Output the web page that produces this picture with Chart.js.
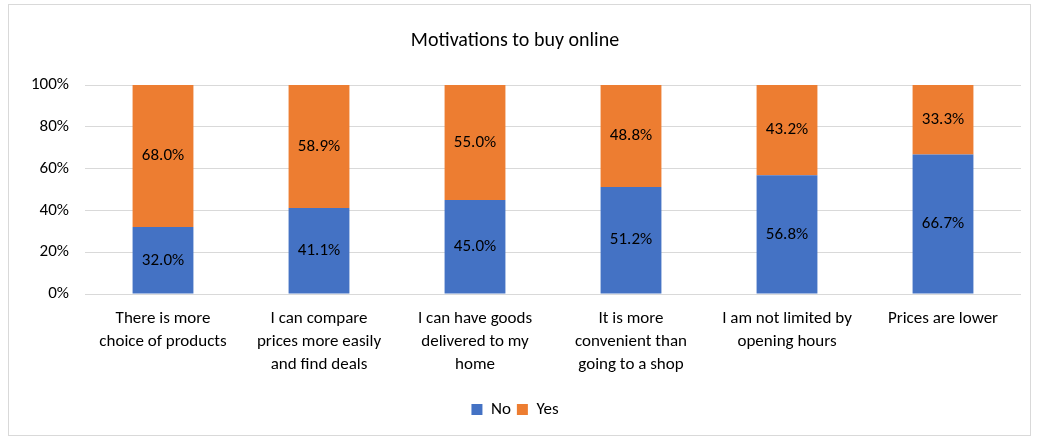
<!DOCTYPE html>
<html lang="en">
  <head>
    <meta charset="UTF-8" />
    <title>Motivations to buy online</title>
    <script src="https://cdn.jsdelivr.net/npm/chart.js"></script>
    <style>
      body {
        margin: 0;
        background: #ffffff;
      }
      /* light frame round the chart */
      #chartBox {
        position: absolute;
        left: 8px;
        top: 4px;
        width: 1021px;
        height: 430px;
        border: 1px solid #d9d9d9;
      }
    </style>
  </head>
  <body>
    <div id="chartBox">
      <canvas id="motivesChart"></canvas>
    </div>

    <script>
      var categories = [
        ["There is more", "choice of products"],
        ["I can compare", "prices more easily", "and find deals"],
        ["I can have goods", "delivered to my", "home"],
        ["It is more", "convenient than", "going to a shop"],
        ["I am not limited by", "opening hours"],
        "Prices are lower",
      ];
      var noValues = [32.0, 41.1, 45.0, 51.2, 56.8, 66.7];
      var yesValues = [68.0, 58.9, 55.0, 48.8, 43.2, 33.3];
      var yTicks = [0, 20, 40, 60, 80, 100];

      var fontFamily = "Carlito, Lato, sans-serif";

      // writes the percentage in the middle of each bar segment
      var barLabels = {
        id: "barLabels",
        afterDatasetsDraw: function (chart) {
          var ctx = chart.ctx;
          ctx.save();
          ctx.font = "17px " + fontFamily;
          ctx.fillStyle = "#000000";
          ctx.textAlign = "center";
          ctx.textBaseline = "middle";
          chart.data.datasets.forEach(function (ds, i) {
            chart.getDatasetMeta(i).data.forEach(function (bar, j) {
              var mid = (bar.y + bar.base) / 2;
              ctx.fillText(ds.data[j].toFixed(1) + "%", bar.x, mid);
            });
          });
          ctx.restore();
        },
      };

      var ctx = document.getElementById("motivesChart").getContext("2d");
      var motivesChart = new Chart(ctx, {
        type: "bar",
        data: {
          labels: categories,
          datasets: [
            {
              label: "No",
              data: noValues,
              backgroundColor: "#4472c4",
              borderWidth: 0,
              barPercentage: 0.78,
              categoryPercentage: 0.5,
            },
            {
              label: "Yes",
              data: yesValues,
              backgroundColor: "#ed7d31",
              borderWidth: 0,
              barPercentage: 0.78,
              categoryPercentage: 0.5,
            },
          ],
        },
        options: {
          responsive: true,
          maintainAspectRatio: false,
          animation: false,
          layout: {
            padding: { left: 0, right: 9, top: 10, bottom: 7 },
          },
          plugins: {
            title: {
              display: true,
              text: "Motivations to buy online",
              color: "#000000",
              font: { family: fontFamily, size: 20, weight: "normal" },
              padding: { top: 14, bottom: 32 },
            },
            legend: {
              position: "bottom",
              labels: {
                color: "#000000",
                font: { family: fontFamily, size: 17 },
                boxWidth: 11,
                boxHeight: 11,
                padding: 6,
              },
            },
            tooltip: { enabled: false },
          },
          scales: {
            x: {
              stacked: true,
              grid: { display: false },
              border: { display: false },
              ticks: {
                color: "#000000",
                font: { family: fontFamily, size: 17, lineHeight: 1.35 },
                maxRotation: 0,
                autoSkip: false,
                padding: 5,
              },
              afterFit: function (scale) {
                scale.height = 101;
              },
            },
            y: {
              stacked: true,
              min: 0,
              max: 100,
              afterBuildTicks: function (scale) {
                scale.ticks = yTicks.map(function (v) {
                  return { value: v };
                });
              },
              ticks: {
                color: "#000000",
                font: { family: fontFamily, size: 17 },
                padding: 16,
                callback: function (v) {
                  return v + "%";
                },
              },
              grid: {
                color: "#d9d9d9",
                lineWidth: 1,
                drawTicks: false,
              },
              border: { display: false },
              afterFit: function (scale) {
                scale.width = 76;
              },
            },
          },
        },
        plugins: [barLabels],
      });
    </script>
  </body>
</html>
